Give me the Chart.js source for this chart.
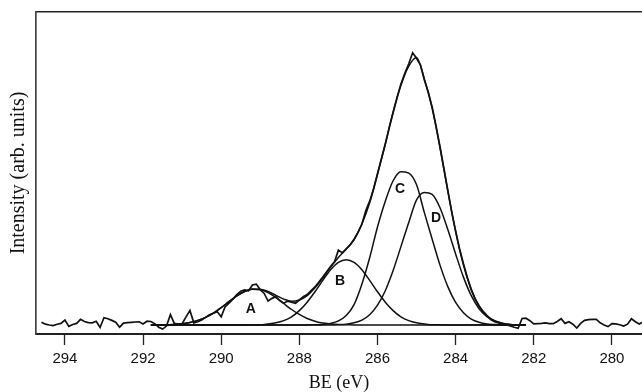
<!DOCTYPE html>
<html>
<head>
<meta charset="utf-8">
<script src="https://cdn.jsdelivr.net/npm/chart.js@4/dist/chart.umd.min.js"></script>
<style>
  html, body { margin: 0; padding: 0; background: #fff; overflow: hidden; }
</style>
</head>
<body>
<canvas id="chart" width="642" height="392"></canvas>
<script>
// measured spectrum, binding energy from 294.6 eV down in 0.1 eV steps
const rawStart = 294.6;
const rawStep = 0.1;
const rawIntensity = [
  1.0, 0.3, 0.0, -0.2, 0.3, 0.6, 1.8, -0.5, 0.2, 0.6,
  2.1, 1.3, 0.9, 0.8, 1.4, -0.9, 2.7, 2.3, 1.7, 1.0,
  -0.8, 0.7, 0.9, 1.0, 1.1, 1.2, 0.4, 1.4, 1.3, 0.5,
  -0.8, -1.5, -0.4, 3.8, 0.6, 0.3, 0.5, 3.0, 5.3, 0.8,
  1.2, 1.8, 2.8, 3.8, 4.3, 4.9, 3.0, 6.7, 8.0, 9.5,
  11.2, 12.4, 12.9, 12.6, 14.7, 15.0, 13.0, 11.6, 8.8, 9.8,
  10.4, 9.0, 8.0, 8.8, 8.4, 8.0, 9.2, 10.4, 11.2, 12.6,
  14.0, 15.8, 17.6, 19.6, 21.5, 23.2, 27.5, 26.5, 28.0, 29.5,
  31.5, 34.0, 37.0, 42.0, 45.5, 50.0, 55.5, 61.0, 66.5, 72.5,
  78.0, 83.5, 88.5, 92.5, 96.0, 100.0, 98.0, 95.5, 90.0, 85.5,
  80.0, 73.0, 65.5, 57.5, 49.5, 41.5, 34.5, 28.0, 22.5, 17.5,
  13.0, 9.5, 7.0, 5.0, 3.5, 2.0, 1.2, 0.8, 0.3, 0.0,
  -0.3, -0.8, -1.2, 2.4, 2.5, 1.6, 0.4, 0.5, 0.6, 0.8,
  0.5, 0.5, 1.3, 2.3, 0.6, 1.2, 0.3, -1.1, 0.6, 1.7,
  2.0, 2.1, 2.1, 0.8, 0.0, -0.6, 0.5, 0.4, 0.1, -0.4,
  0.3, 2.3, 1.2, 0.4, 1.2
];

// fitted peaks, from 291.8 eV down in 0.2 eV steps
const fitStart = 291.8;
const fitStep = 0.2;
const peakA = [
  0, 0, 0.1, 0.2, 0.5, 0.9, 1.7, 2.8, 4.4, 6.4,
  8.6, 10.7, 12.3, 13.1, 13.0, 11.9, 10.1, 7.9, 5.7, 3.9,
  2.4, 1.4, 0.7, 0.4, 0.2, 0.1, 0, 0, 0, 0,
  0, 0, 0, 0, 0, 0, 0, 0, 0, 0,
  0, 0, 0, 0, 0, 0, 0, 0, 0
];
const peakB = [
  0, 0, 0, 0, 0, 0, 0, 0, 0, 0,
  0, 0, 0, 0.1, 0.1, 0.4, 0.8, 1.6, 3.0, 5.3,
  8.4, 12.2, 16.4, 20.3, 23.0, 24.0, 23.0, 20.3, 16.4, 12.2,
  8.4, 5.3, 3.0, 1.6, 0.8, 0.4, 0.1, 0.1, 0, 0,
  0, 0, 0, 0, 0, 0, 0, 0, 0
];
const peakC = [
  0, 0, 0, 0, 0, 0, 0, 0, 0, 0,
  0, 0, 0, 0, 0, 0, 0, 0, 0, 0,
  0, 0.1, 0.2, 0.6, 1.5, 3.5, 7.5, 15.0, 24.7, 36.0,
  45.5, 53.0, 56.3, 55.8, 51.5, 41.3, 31.5, 22.0, 14.1, 8.3,
  4.5, 2.2, 1.0, 0.4, 0.2, 0.1, 0, 0, 0
];
const peakD = [
  0, 0, 0, 0, 0, 0, 0, 0, 0, 0,
  0, 0, 0, 0, 0, 0, 0, 0, 0, 0,
  0, 0, 0, 0, 0.1, 0.3, 0.8, 1.8, 3.8, 7.3,
  12.6, 20.0, 28.8, 37.7, 46.0, 48.7, 48.0, 43.1, 35.1, 26.1,
  17.6, 10.8, 6.0, 3.1, 1.4, 0.6, 0.2, 0.1, 0
];
const envelope = [
  0, 0, 0.1, 0.2, 0.5, 0.9, 1.7, 2.8, 4.4, 6.4,
  8.6, 10.7, 12.3, 13.2, 13.1, 12.3, 10.9, 9.5, 8.7, 9.2,
  10.8, 13.7, 17.3, 21.3, 24.8, 27.9, 31.3, 37.1, 44.9, 55.5,
  66.5, 78.3, 88.1, 95.1, 98.3, 90.4, 79.6, 65.2, 49.2, 34.4,
  22.1, 13.0, 7.0, 3.5, 1.6, 0.7, 0.2, 0.1, 0
];

const beTicks = [294, 292, 290, 288, 286, 284, 282, 280];
const peakNames = ["A", "B", "C", "D"];
const peakLabelBE = [289.24, 286.96, 285.42, 284.5];
const peakLabelI = [5.9, 16.2, 50, 39.3];

const toPoints = (start, step, values) =>
  values.map((v, i) => ({ x: +(start - i * step).toFixed(2), y: v }));

const fitLine = (label, values) => ({
  label: label,
  data: toPoints(fitStart, fitStep, values),
  borderColor: "#111",
  borderWidth: 1.5,
  pointRadius: 0,
  cubicInterpolationMode: "monotone",
  fill: false
});

const peakLabels = {
  id: "peakLabels",
  afterDatasetsDraw(chart) {
    const ctx = chart.ctx;
    const xs = chart.scales.x, ys = chart.scales.y;
    ctx.save();
    ctx.fillStyle = "#111";
    ctx.font = 'bold 14px "Liberation Sans", Arial, sans-serif';
    ctx.textAlign = "center";
    ctx.textBaseline = "middle";
    peakNames.forEach((name, i) => {
      ctx.fillText(name, xs.getPixelForValue(peakLabelBE[i]), ys.getPixelForValue(peakLabelI[i]));
    });
    ctx.restore();
  }
};

const frameColor = "#222";

new Chart(document.getElementById("chart"), {
  type: "line",
  data: {
    datasets: [
      {
        label: "data",
        data: toPoints(rawStart, rawStep, rawIntensity),
        borderColor: "#111",
        borderWidth: 1.7,
        pointRadius: 0,
        tension: 0,
        fill: false
      },
      fitLine("envelope", envelope),
      fitLine("A", peakA),
      fitLine("B", peakB),
      fitLine("C", peakC),
      fitLine("D", peakD)
    ]
  },
  options: {
    responsive: false,
    animation: false,
    layout: { padding: 0 },
    plugins: {
      legend: { display: false },
      tooltip: { enabled: false }
    },
    scales: {
      x: {
        type: "linear",
        position: "bottom",
        reverse: true,
        min: 279.23,
        max: 294.74,
        afterBuildTicks: (s) => { s.ticks = beTicks.map(v => ({ value: v })); },
        afterFit: (s) => { s.height = 58; },
        ticks: {
          color: "#111",
          padding: 5,
          maxRotation: 0,
          font: { family: '"Liberation Sans", Arial, sans-serif', size: 15 }
        },
        grid: {
          drawOnChartArea: false,
          drawTicks: true,
          tickLength: 11,
          tickColor: "#222",
          tickWidth: 1.3
        },
        border: { display: true, color: frameColor, width: 2 },
        title: {
          display: true,
          text: "BE (eV)",
          color: "#111",
          padding: { top: 0, bottom: 0 },
          font: { family: '"Liberation Serif", "Times New Roman", serif', size: 18, lineHeight: 1 }
        }
      },
      xTop: {
        type: "linear",
        position: "top",
        reverse: true,
        min: 279.23,
        max: 294.74,
        afterFit: (s) => { s.height = 12; },
        ticks: { display: false },
        grid: { display: false, drawTicks: false },
        border: { display: true, color: frameColor, width: 1.5 }
      },
      y: {
        type: "linear",
        position: "left",
        min: -3.3,
        max: 115,
        afterFit: (s) => { s.width = 36; },
        ticks: { display: false },
        grid: { display: false, drawTicks: false },
        border: { display: true, color: "#444", width: 1.7 },
        title: {
          display: true,
          text: "Intensity (arb. units)",
          color: "#111",
          padding: { top: 9, bottom: 0 },
          font: { family: '"Liberation Serif", "Times New Roman", serif', size: 20, lineHeight: 1 }
        }
      }
    }
  },
  plugins: [peakLabels]
});
</script>
</body>
</html>
